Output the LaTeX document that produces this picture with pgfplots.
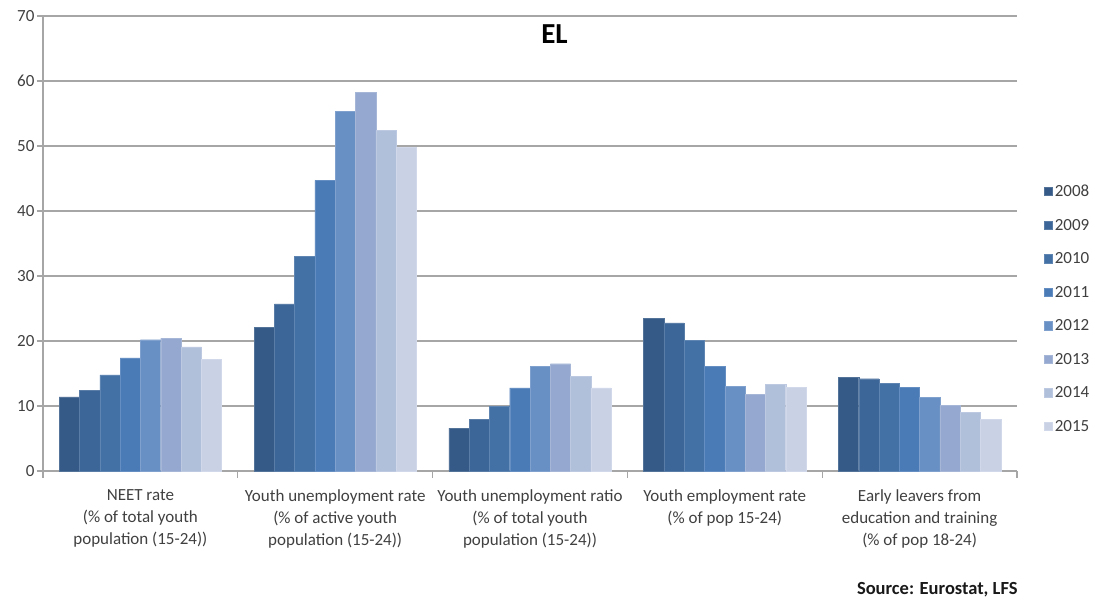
\documentclass[border=0pt]{standalone}
\usepackage{fontspec}
\setmainfont{Carlito}
\usepackage{pgfplots}
\pgfplotsset{compat=1.18}
\usepackage{pgfplotstable}

\definecolor{c08}{HTML}{365A87}
\definecolor{c09}{HTML}{3D6698}
\definecolor{c10}{HTML}{4371A5}
\definecolor{c11}{HTML}{4A7BB7}
\definecolor{c12}{HTML}{6990C4}
\definecolor{c13}{HTML}{95A9D0}
\definecolor{c14}{HTML}{B0BFDA}
\definecolor{c15}{HTML}{C9D1E5}
\definecolor{gridg}{HTML}{A6A6A6}
\definecolor{txt}{HTML}{404040}

% x = group, one column per year
\pgfplotstableread{
x  y2008 y2009 y2010 y2011 y2012 y2013 y2014 y2015
0  11.4  12.4  14.8  17.4  20.2  20.4  19.1  17.2
1  22.1  25.7  33.0  44.7  55.3  58.3  52.4  49.8
2  6.6   7.9   9.9   12.8  16.1  16.5  14.6  12.8
3  23.5  22.8  20.1  16.1  13.0  11.8  13.3  12.9
4  14.4  14.2  13.5  12.9  11.3  10.1  9.0   7.9
}\eldata

\begin{document}
\begin{tikzpicture}[x=1pt,y=1pt]
\path[use as bounding box] (0,0) rectangle (1095,601);
\begin{axis}[
    at={(43pt,130pt)}, anchor=south west,
    scale only axis, width=974pt, height=455pt,
    ybar=0pt, bar width=20.3pt,
    xmin=-0.5, xmax=4.5,
    ymin=0, ymax=70, ytick={0,10,...,70},
    xtick={0,1,2,3,4},
    xticklabels={
      {NEET rate\\(\% of total youth\\population (15-24))},
      {Youth unemployment rate\\(\% of active youth\\population (15-24))},
      {Youth unemployment ratio\\(\% of total youth\\population (15-24))},
      {Youth employment rate\\(\% of pop 15-24)},
      {Early leavers from\\education and training\\(\% of pop 18-24)}},
    minor xtick={-0.5,0.5,...,4.5},
    major x tick style={draw=none},
    minor tick length=7pt, major tick length=6pt,
    tick align=outside, tick pos=left,
    tick style={gridg, line width=1.2pt},
    ymajorgrids, grid style={gridg, line width=1.2pt},
    axis x line*=bottom, axis y line*=left,
    axis line style={gridg, line width=1.2pt},
    x axis line style={-}, y axis line style={-},
    every tick label/.append style={text=txt, font=\fontsize{17}{22}\selectfont},
    yticklabel style={xshift=1pt},
    xticklabel style={align=center, yshift=-9pt},
    /pgf/number format/assume math mode=true,
    legend style={at={(1.027,0.629)}, anchor=north west, draw=none,
      font=\fontsize{17}{18}\selectfont, text=txt,
      row sep=21pt, inner sep=0pt,
      nodes={inner xsep=2.5pt, inner ysep=0pt}},
    legend cell align=left,
    legend image code/.code={\fill[#1] (0pt,-4pt) rectangle (8.5pt,4.5pt);},
    clip=false,
]
\addplot[fill=c08, draw=c08!85!white, line width=0.3pt] table[x=x,y=y2008] {\eldata};
\addplot[fill=c09, draw=c09!85!white, line width=0.3pt] table[x=x,y=y2009] {\eldata};
\addplot[fill=c10, draw=c10!85!white, line width=0.3pt] table[x=x,y=y2010] {\eldata};
\addplot[fill=c11, draw=c11!85!white, line width=0.3pt] table[x=x,y=y2011] {\eldata};
\addplot[fill=c12, draw=c12!85!white, line width=0.3pt] table[x=x,y=y2012] {\eldata};
\addplot[fill=c13, draw=c13!85!white, line width=0.3pt] table[x=x,y=y2013] {\eldata};
\addplot[fill=c14, draw=c14!85!white, line width=0.3pt] table[x=x,y=y2014] {\eldata};
\addplot[fill=c15, draw=c15!85!white, line width=0.3pt] table[x=x,y=y2015] {\eldata};
\legend{2008,2009,2010,2011,2012,2013,2014,2015}
\end{axis}
\node[font=\bfseries\fontsize{29}{30}\selectfont, text=black] at (554.5,567) {EL};
\node[font=\bfseries\fontsize{18.5}{20}\selectfont, text=black!90, anchor=east] at (1021,11) {Source: Eurostat, LFS};
\end{tikzpicture}
\end{document}
